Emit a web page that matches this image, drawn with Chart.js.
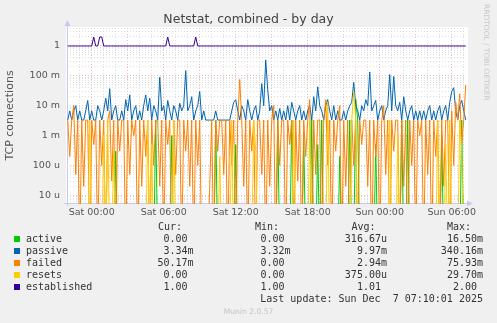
<!DOCTYPE html>
<html>
<head>
<meta charset="utf-8">
<script src="https://cdn.jsdelivr.net/npm/chart.js@4.4.1/dist/chart.umd.min.js"></script>
<style>
  html, body { margin: 0; padding: 0; background: #f0f0f0; }
  #wrap { position: relative; width: 497px; height: 323px; overflow: hidden; font-family: "DejaVu Sans", sans-serif; }
  #chart { position: absolute; left: 0; top: 0; }
  .t { position: absolute; white-space: pre; }
  .mono { font-family: "DejaVu Sans Mono", monospace; font-size: 10px; line-height: 12px; color: #333; }
  .sq { position: absolute; width: 6px; height: 6px; }
  #title { left: 0; width: 497px; top: 11px; text-align: center; font-size: 12.5px; color: #444; }
  #side { left: 483px; top: 4px; font-size: 7.5px; color: #c8c8c8; transform-origin: 0 0; transform: translate(8px, 0) rotate(90deg); }
  #munin { left: 0; width: 497px; top: 307px; text-align: center; font-size: 7.6px; color: #c4c4c4; }
</style>
</head>
<body>
<div id="wrap">
  <canvas id="chart" width="497" height="323"></canvas>
  <div class="t" id="title">Netstat, combined - by day</div>
  <div class="t" id="side">RRDTOOL / TOBI OETIKER</div>
  <div class="t" id="munin">Munin 2.0.57</div>
  <div id="legend"></div>
</div>
<script>
// samples every 10 minutes, hours relative to Sat 00:00
const startHour = -2;
const stepHours = 1 / 6;

// values in milli (per second)
const activeMilli = [
  0, 0, 0, 0, 0, 0, 0, 0, 0, 0, 0, 0, 0, 0, 0, 0, 0, 0, 0, 0,
  0, 0, 0, 0, 0.3, 0, 0, 0, 0, 0, 0, 0, 0, 0, 0, 0, 0, 0, 0, 0,
  0, 0, 0, 0, 3.3, 0, 0, 0, 0, 0, 0, 0, 1, 0, 0, 0, 0, 0, 0, 0,
  0, 0, 0, 0, 0, 0, 0, 0, 0, 0, 0, 0, 0, 0, 3.3, 0, 0, 0, 0, 0,
  0, 0, 0, 0, 0.5, 0, 0, 0, 0, 0, 0, 0, 0, 0, 0, 0, 0, 0, 0, 0,
  0, 0, 0, 0, 0, 3.3, 0, 0, 0, 0, 0, 0, 3.3, 0, 0, 0, 0, 0, 1, 0,
  0, 0, 3.3, 0, 0, 0.5, 0, 3.3, 0, 0, 0, 0, 0, 0, 0, 0, 0.2, 0, 0, 0,
  0, 3.3, 0, 0, 16.5, 3.3, 0, 0, 0, 0, 0, 0, 0, 0, 0.5, 0, 0, 0, 0, 0,
  0, 0, 0, 0, 0, 0, 0, 3.3, 0, 0, 3.3, 0, 0, 0, 0, 0, 0, 0, 0, 0,
  0, 0, 0, 0, 0, 0, 0, 1, 0, 0, 0, 0, 0, 0, 0, 0, 0, 3.3, 0, 0
];
const passiveMilli = [
  3.3, 6.7, 3.3, 6.7, 10, 3.3, 6.7, 3.3, 3.3, 6.7, 15, 3.3, 6.7, 3.3, 3.3, 10, 6.7, 3.3, 6.7, 18,
  6.7, 37, 3.3, 6.7, 10, 3.3, 3.3, 6.7, 3.3, 16, 6.7, 23, 3.3, 6.7, 10, 3.3, 6.7, 3.3, 10, 23,
  6.7, 18, 3.3, 10, 6.7, 3.3, 90, 6.7, 10, 3.3, 15, 6.7, 3.3, 10, 6.7, 3.3, 12, 6.7, 10, 150,
  6.7, 10, 20, 3.3, 6.7, 10, 30, 3.3, 6.7, 3.3, 3.3, 3.3, 3.3, 3.3, 6.7, 3.3, 3.3, 3.3, 3.3, 3.3,
  3.3, 3.3, 6.7, 13, 16, 6.7, 3.3, 10, 6.7, 3.3, 16, 6.7, 3.3, 6.7, 10, 3.3, 6.7, 55, 10, 340,
  34, 6.7, 10, 3.3, 6.7, 3.3, 8, 3.3, 6.7, 3.3, 10, 3.3, 13, 6.7, 3.3, 6.7, 10, 3.3, 6.7, 3.3,
  6.7, 10, 3.3, 20, 6.7, 43, 10, 6.7, 3.3, 10, 16, 6.7, 3.3, 10, 3.3, 6.7, 3.3, 3.3, 6.7, 3.3,
  6.7, 10, 13, 60, 10, 6.7, 3.3, 10, 6.7, 16, 10, 135, 6.7, 10, 15, 3.3, 6.7, 10, 3.3, 6.7,
  10, 110, 6.7, 95, 10, 6.7, 13, 3.3, 20, 6.7, 3.3, 6.7, 10, 3.3, 6.7, 3.3, 6.7, 3.3, 6.7, 3.3,
  6.7, 10, 3.3, 6.7, 3.3, 6.7, 10, 3.3, 6.7, 10, 3.3, 13, 30, 40, 6.7, 3.3, 10, 15, 6.7, 3.34
];
const failedMilli = [
  3.3, 0.2, 3.3, 10, 0.05, 3.3, 0, 3.3, 0.02, 3.3, 3.3, 0, 3.3, 0.5, 3.3, 0, 3.3, 0.1, 3.3, 0,
  3.3, 6.7, 0.03, 3.3, 0, 3.3, 0.3, 3.3, 3.3, 0, 3.3, 0.05, 3.3, 1, 3.3, 0, 3.3, 0.02, 3.3, 0.2,
  3.3, 0, 3.3, 0.1, 3.3, 3.3, 0.02, 3.3, 0, 3.3, 0.5, 3.3, 0, 3.3, 0.05, 3.3, 3.3, 0, 3.3, 0.3,
  3.3, 0.02, 3.3, 0, 3.3, 0.1, 3.3, 0, 0, 0, 0, 0.02, 3.3, 0, 3.3, 0.3, 3.3, 3.3, 0.05, 3.3,
  0, 3.3, 0.1, 3.3, 0, 3.3, 75.93, 3.3, 0.02, 3.3, 0, 3.3, 0.3, 3.3, 0, 3.3, 3.3, 0.05, 3.3, 0,
  3.3, 0.02, 3.3, 10, 0, 3.3, 0.1, 3.3, 3.3, 0, 3.3, 0.5, 3.3, 0, 3.3, 0.03, 3.3, 0, 3.3, 0.2,
  3.3, 16, 0, 3.3, 0.05, 3.3, 3.3, 0, 3.3, 16, 0.1, 3.3, 0, 3.3, 0.3, 3.3, 10, 0, 3.3, 0.02,
  3.3, 0, 3.3, 0.1, 3.3, 0, 3.3, 0.5, 3.3, 3.3, 0.02, 3.3, 0, 3.3, 0.2, 3.3, 0, 3.3, 10, 0.05,
  3.3, 0, 3.3, 0.3, 3.3, 3.3, 0, 3.3, 0.02, 3.3, 0, 3.3, 0.1, 3.3, 0, 3.3, 1, 3.3, 0, 3.3,
  0.05, 3.3, 0, 3.3, 0.2, 3.3, 0, 3.3, 0.02, 3.3, 3.3, 0, 6.7, 0.1, 13, 3.3, 25, 0.5, 3.3, 50.17
];
const resetsMilli = [
  0, 0, 0, 0, 0, 0, 0, 0, 0, 0, 0, 3.3, 0, 0, 0, 0, 0, 0, 1, 0,
  3.3, 0, 0, 0.3, 0, 0, 0, 0, 0, 0, 0, 0, 0, 0, 0, 0, 0, 0, 0, 0,
  3.3, 0, 0.5, 0, 0, 0, 0, 0, 0, 0, 0, 0, 0, 3.3, 0, 0, 0, 0, 0, 0,
  0, 0, 0, 0, 0, 0, 0, 0, 0, 0, 0, 0, 0, 0, 0, 0, 0.2, 0, 0, 0,
  0, 0, 3.3, 0, 0, 0, 0, 0, 0, 0, 0, 0, 0, 3.3, 0.3, 0, 0, 0, 0, 0,
  0, 0, 0, 0, 0, 0, 0, 0, 0, 0, 0, 0, 0, 3.3, 0, 0, 0, 0, 0, 0,
  0, 3.3, 0, 0, 0, 0, 0, 0, 0, 0, 13, 0, 0, 0, 0, 0, 0, 0, 0, 0,
  0, 0, 3.3, 29.7, 3.3, 0, 0, 0, 0, 0, 0, 0, 0, 0, 0, 0, 0, 0, 0, 0,
  0, 3.3, 0, 0, 0, 1, 0, 0, 0, 0, 0, 0, 0, 0, 0, 0, 0, 0, 0, 0,
  0, 0, 0, 0, 0, 3.3, 0, 0, 0, 0.5, 0, 3.3, 0, 0, 0, 0, 3.3, 0.3, 0, 0
];
// established, plain units
const established = [
  1, 1, 1, 1, 1, 1, 1, 1, 1, 1, 1, 1, 1, 2, 1, 1, 2, 2, 1, 1,
  1, 1, 1, 1, 1, 1, 1, 1, 1, 1, 1, 1, 1, 1, 1, 1, 1, 1, 1, 1,
  1, 1, 1, 1, 1, 1, 1, 1, 1, 1, 2, 1, 1, 1, 1, 1, 1, 1, 1, 1,
  1, 1, 1, 1, 2, 1, 1, 1, 1, 1, 1, 1, 1, 1, 1, 1, 1, 1, 1, 1,
  1, 1, 1, 1, 1, 1, 1, 1, 1, 1, 1, 1, 1, 1, 1, 1, 1, 1, 1, 1,
  1, 1, 1, 1, 1, 1, 1, 1, 1, 1, 1, 1, 1, 1, 1, 1, 1, 1, 1, 1,
  1, 1, 1, 1, 1, 1, 1, 1, 1, 1, 1, 1, 1, 1, 1, 1, 1, 1, 1, 1,
  1, 1, 1, 1, 1, 1, 1, 1, 1, 1, 1, 1, 1, 1, 1, 1, 1, 1, 1, 1,
  1, 1, 1, 1, 1, 1, 1, 1, 1, 1, 1, 1, 1, 1, 1, 1, 1, 1, 1, 1,
  1, 1, 1, 1, 1, 1, 1, 1, 1, 1, 1, 1, 1, 1, 1, 1, 1, 1, 1, 1
];

const seriesNames = ['active', 'passive', 'failed', 'resets', 'established'];
const seriesColors = ['#00cc00', '#0066b3', '#ff8000', '#ffcc00', '#330099'];
const curVals = ['0.00 ', '3.34m', '50.17m', '0.00 ', '1.00 '];
const minVals = ['0.00 ', '3.32m', '0.00 ', '0.00 ', '1.00 '];
const avgVals = ['316.67u', '9.97m', '2.94m', '375.00u', '1.01 '];
const maxVals = ['16.50m', '340.16m', '75.93m', '29.70m', '2.00 '];
const lastUpdate = 'Last update: Sun Dec  7 07:10:01 2025';

const xTickHours = [0, 6, 12, 18, 24, 30];
const xTickLabels = ['Sat 00:00', 'Sat 06:00', 'Sat 12:00', 'Sat 18:00', 'Sun 00:00', 'Sun 06:00'];
const yTickValues = [1, 0.1, 0.01, 0.001, 0.0001, 0.00001];
const yTickLabels = ['1', '100 m', '10 m', '1 m', '100 u', '10 u'];

const yMin = 5.5e-6, yMax = 4.0;
const xMin = -2.06, xMax = 31.19;
// a log axis cannot show 0: park zeros below the bottom edge, the clip cuts them off
const zeroFloor = 1e-7;

const gridRed = 'rgba(232, 170, 170, 0.8)';
const gridGrey = 'rgba(212, 212, 212, 0.75)';
const textColor = '#555';

function toPoints(values, scale) {
  return values.map((v, i) => ({ x: startHour + i * stepHours, y: v === 0 ? zeroFloor : v * scale }));
}

// log grid: 1..9 in every decade inside the range
const logGrid = [];
for (let e = -6; e <= 0; e++) {
  for (let k = 1; k <= 9; k++) {
    const v = k * Math.pow(10, e);
    if (v >= yMin && v <= yMax) logGrid.push(v);
  }
}
const hourGrid = [];
for (let h = -1; h <= 31; h++) hourGrid.push(h);

function decadeIndex(v) {
  return yTickValues.findIndex(d => Math.abs(v / d - 1) < 1e-6);
}
function isDecade(v) {
  const l = Math.log10(v);
  return Math.abs(l - Math.round(l)) < 1e-6;
}

const plotFrame = {
  id: 'plotFrame',
  beforeDraw(chart) {
    const { ctx, chartArea: a } = chart;
    ctx.save();
    ctx.fillStyle = '#ffffff';
    ctx.fillRect(a.left - 1, a.top - 1, a.right - a.left + 3, a.bottom - a.top + 1);
    ctx.restore();
  },
  beforeDatasetsDraw(chart) {
    const { ctx, chartArea: a } = chart;
    const c = '#c8c8f4';
    ctx.save();
    ctx.strokeStyle = c;
    ctx.fillStyle = c;
    ctx.lineWidth = 1;
    ctx.beginPath();
    ctx.moveTo(a.left + 0.5, a.bottom + 3);
    ctx.lineTo(a.left + 0.5, a.top - 3);
    ctx.moveTo(a.left - 3, a.bottom + 0.5);
    ctx.lineTo(a.right + 2, a.bottom + 0.5);
    ctx.stroke();
    ctx.beginPath();
    ctx.moveTo(a.left + 0.5, a.top - 8);
    ctx.lineTo(a.left - 2.5, a.top - 2);
    ctx.lineTo(a.left + 3.5, a.top - 2);
    ctx.closePath();
    ctx.fill();
    ctx.beginPath();
    ctx.moveTo(a.right + 7, a.bottom + 0.5);
    ctx.lineTo(a.right + 1, a.bottom - 2.5);
    ctx.lineTo(a.right + 1, a.bottom + 3.5);
    ctx.closePath();
    ctx.fill();
    ctx.restore();
  }
};

function line(idx, points, order) {
  return {
    label: seriesNames[idx],
    data: points,
    borderColor: seriesColors[idx],
    borderWidth: 1,
    pointRadius: 0,
    tension: 0,
    fill: false,
    order: order,
    clip: { left: 1, top: 1, right: 1, bottom: 1 }
  };
}

const tickFont = { family: 'DejaVu Sans', size: 9.5 };

new Chart(document.getElementById('chart'), {
  type: 'line',
  data: {
    datasets: [
      line(0, toPoints(activeMilli, 1e-3), 5),
      line(1, toPoints(passiveMilli, 1e-3), 4),
      line(2, toPoints(failedMilli, 1e-3), 3),
      line(3, toPoints(resetsMilli, 1e-3), 2),
      line(4, toPoints(established, 1), 1)
    ]
  },
  options: {
    responsive: false,
    animation: false,
    devicePixelRatio: 1,
    layout: { padding: { left: 0, top: 28, right: 31, bottom: 0 } },
    plugins: {
      legend: { display: false },
      tooltip: { enabled: false },
      title: { display: false }
    },
    scales: {
      x: {
        type: 'linear',
        min: xMin,
        max: xMax,
        afterFit: s => { s.height = 120; },
        afterBuildTicks: s => { s.ticks = hourGrid.map(v => ({ value: v })); },
        grid: {
          color: c => (c.tick && c.tick.value % 3 === 0) ? gridRed : gridGrey,
          drawTicks: false,
          lineWidth: 1
        },
        border: { display: false, dash: [1, 2] },
        ticks: {
          autoSkip: false,
          maxRotation: 0,
          padding: 4,
          color: textColor,
          font: tickFont,
          callback: v => {
            const k = xTickHours.indexOf(v);
            return k >= 0 ? xTickLabels[k] : '';
          }
        }
      },
      y: {
        type: 'logarithmic',
        min: yMin,
        max: yMax,
        afterFit: s => { s.width = 67; },
        afterBuildTicks: s => { s.ticks = logGrid.map(v => ({ value: v })); },
        grid: {
          color: c => (c.tick && isDecade(c.tick.value)) ? gridRed : gridGrey,
          drawTicks: false,
          lineWidth: 1
        },
        border: { display: false, dash: [1, 2] },
        ticks: {
          autoSkip: false,
          padding: 7,
          color: textColor,
          font: tickFont,
          callback: v => {
            const k = decadeIndex(v);
            return k >= 0 ? yTickLabels[k] : '';
          }
        },
        title: {
          display: true,
          text: 'TCP connections',
          color: textColor,
          font: { family: 'DejaVu Sans', size: 11 },
          padding: { top: 4, bottom: 0 }
        }
      }
    }
  },
  plugins: [plotFrame]
});

// legend table below the graph
const legend = document.getElementById('legend');
function addText(text, rightEdge, top, cls) {
  const d = document.createElement('div');
  d.className = 't ' + cls;
  d.textContent = text;
  d.style.right = (497 - rightEdge) + 'px';
  d.style.top = top + 'px';
  legend.appendChild(d);
}
const headerTop = 221;
const rowStep = 12;
const valueEdges = [193.5, 290.5, 387, 483];
const headerEdges = [182, 279, 375.5, 471];
['Cur:', 'Min:', 'Avg:', 'Max:'].forEach((h, j) => addText(h, headerEdges[j], headerTop, 'mono'));
seriesNames.forEach((name, i) => {
  const top = headerTop + rowStep * (i + 1);
  const sq = document.createElement('div');
  sq.className = 'sq';
  sq.style.left = '14px';
  sq.style.top = (top + 3) + 'px';
  sq.style.background = seriesColors[i];
  legend.appendChild(sq);
  const lab = document.createElement('div');
  lab.className = 't mono';
  lab.textContent = name;
  lab.style.left = '26px';
  lab.style.top = top + 'px';
  legend.appendChild(lab);
  [curVals, minVals, avgVals, maxVals].forEach((col, j) => addText(col[i], valueEdges[j], top, 'mono'));
});
addText(lastUpdate, 483, headerTop + rowStep * 6, 'mono');
</script>
</body>
</html>
